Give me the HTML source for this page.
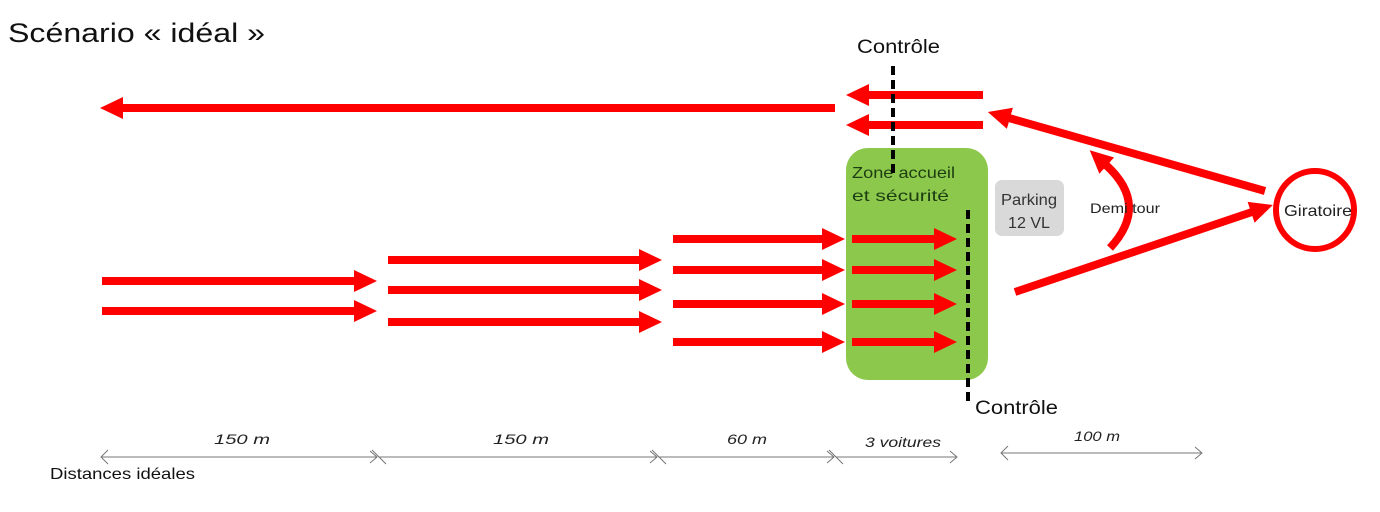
<!DOCTYPE html>
<html><head><meta charset="utf-8"><style>
html,body{margin:0;padding:0;background:#fff;}
svg{display:block;font-family:"Liberation Sans",sans-serif;}
</style></head><body>
<svg width="1380" height="512" viewBox="0 0 1380 512" xmlns="http://www.w3.org/2000/svg">
<defs>
<marker id="ah" markerUnits="userSpaceOnUse" markerWidth="24" markerHeight="26" refX="1" refY="12" orient="auto">
<path d="M0,1 L23,12 L0,23 z" fill="#f00"/>
</marker>
<marker id="dh" markerUnits="userSpaceOnUse" markerWidth="10" markerHeight="14" refX="8" refY="7" orient="auto">
<path d="M1,1 L8,7 L1,13" fill="none" stroke="#777" stroke-width="1"/>
</marker>
</defs>
<text x="8" y="42" font-size="27" fill="#111" textLength="257" lengthAdjust="spacingAndGlyphs">Scénario « idéal »</text>

<rect x="846" y="148" width="142" height="232" rx="22" fill="#8cc84b"/>
<text x="852" y="178" font-size="16" fill="#1d3d12" textLength="103" lengthAdjust="spacingAndGlyphs">Zone accueil</text>
<text x="852" y="201" font-size="16" fill="#1d3d12" textLength="97" lengthAdjust="spacingAndGlyphs">et sécurité</text>

<rect x="995" y="180" width="69" height="56" rx="7" fill="#d9d9d9"/>
<text x="1029" y="205" font-size="16" fill="#333" text-anchor="middle" textLength="56" lengthAdjust="spacingAndGlyphs">Parking</text>
<text x="1029" y="228" font-size="16" fill="#333" text-anchor="middle" textLength="42" lengthAdjust="spacingAndGlyphs">12 VL</text>

<g stroke="#f00" stroke-width="8" fill="none">
<line x1="835" y1="108" x2="122" y2="108" marker-end="url(#ah)"/>
<line x1="983" y1="95" x2="868" y2="95" marker-end="url(#ah)"/>
<line x1="983" y1="125" x2="868" y2="125" marker-end="url(#ah)"/>
<line x1="102" y1="281" x2="355" y2="281" marker-end="url(#ah)"/>
<line x1="102" y1="311" x2="355" y2="311" marker-end="url(#ah)"/>
<line x1="388" y1="260" x2="640" y2="260" marker-end="url(#ah)"/>
<line x1="388" y1="290" x2="640" y2="290" marker-end="url(#ah)"/>
<line x1="388" y1="322" x2="640" y2="322" marker-end="url(#ah)"/>
<line x1="673" y1="239" x2="823" y2="239" marker-end="url(#ah)"/>
<line x1="673" y1="270" x2="823" y2="270" marker-end="url(#ah)"/>
<line x1="673" y1="304" x2="823" y2="304" marker-end="url(#ah)"/>
<line x1="673" y1="342" x2="823" y2="342" marker-end="url(#ah)"/>
<line x1="852" y1="239" x2="935" y2="239" marker-end="url(#ah)"/>
<line x1="852" y1="270" x2="935" y2="270" marker-end="url(#ah)"/>
<line x1="852" y1="304" x2="935" y2="304" marker-end="url(#ah)"/>
<line x1="852" y1="342" x2="935" y2="342" marker-end="url(#ah)"/>
<line x1="1265" y1="191" x2="1009" y2="118" marker-end="url(#ah)"/>
<line x1="1015" y1="292" x2="1252" y2="212" marker-end="url(#ah)"/>
<path d="M1110,248 Q1150,205 1106,165" marker-end="url(#ah)"/>
</g>
<circle cx="1315" cy="210" r="39" fill="none" stroke="#f00" stroke-width="6"/>
<text x="1318" y="216" font-size="16" fill="#222" text-anchor="middle" textLength="68" lengthAdjust="spacingAndGlyphs">Giratoire</text>
<text x="1090" y="213" font-size="14" fill="#222" textLength="70" lengthAdjust="spacingAndGlyphs">Demi tour</text>

<line x1="893" y1="66" x2="893" y2="176" stroke="#000" stroke-width="4" stroke-dasharray="9,5"/>
<line x1="968" y1="210" x2="968" y2="402" stroke="#000" stroke-width="4" stroke-dasharray="9,5"/>
<text x="857" y="53" font-size="19" fill="#111" textLength="83" lengthAdjust="spacingAndGlyphs">Contrôle</text>
<text x="975" y="414" font-size="19" fill="#111" textLength="83" lengthAdjust="spacingAndGlyphs">Contrôle</text>

<g stroke="#777" stroke-width="1" fill="none">
<line x1="101" y1="457" x2="377" y2="457" marker-end="url(#dh)"/>
<line x1="379" y1="457" x2="657" y2="457" marker-end="url(#dh)"/>
<line x1="659" y1="457" x2="834" y2="457" marker-end="url(#dh)"/>
<line x1="836" y1="457" x2="957" y2="457" marker-end="url(#dh)"/>
<line x1="1001" y1="453" x2="1202" y2="453" marker-end="url(#dh)"/>
<path d="M108,450 L101,457 L108,464 M372,450 L379,457 L386,464 M652,450 L659,457 L666,464 M829,450 L836,457 L843,464 M1008,446 L1001,453 L1008,460"/>
</g>
<g font-size="14" font-style="italic" fill="#222" text-anchor="middle">
<text x="242" y="444" textLength="56" lengthAdjust="spacingAndGlyphs">150 m</text>
<text x="521" y="444" textLength="56" lengthAdjust="spacingAndGlyphs">150 m</text>
<text x="747" y="444" textLength="40" lengthAdjust="spacingAndGlyphs">60 m</text>
<text x="903" y="447" textLength="76" lengthAdjust="spacingAndGlyphs">3 voitures</text>
<text x="1097" y="441" textLength="46" lengthAdjust="spacingAndGlyphs">100 m</text>
</g>
<text x="50" y="479" font-size="16" fill="#111" textLength="145" lengthAdjust="spacingAndGlyphs">Distances idéales</text>
</svg>
</body></html>
